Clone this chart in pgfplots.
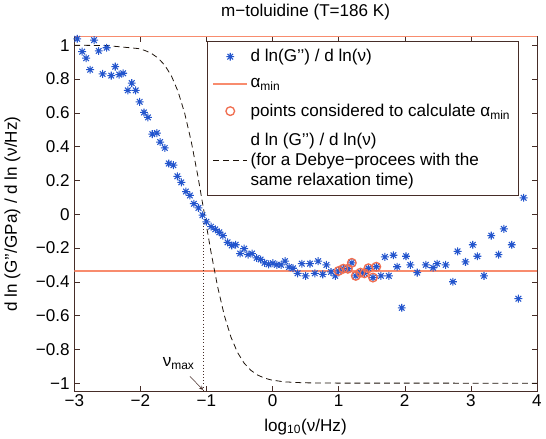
\documentclass[border=0pt]{standalone}
\usepackage{fontspec}
\setmainfont{Liberation Sans}
\usepackage{pgfplots}
\pgfplotsset{compat=1.18}
\definecolor{starblue}{RGB}{35,85,205}
\definecolor{salmonline}{RGB}{248,140,110}
\definecolor{circor}{RGB}{240,110,80}
\definecolor{frame}{RGB}{70,45,40}

% MATLAB-like eight-armed asterisk
\pgfdeclareplotmark{star8}{%
  \pgfpathmoveto{\pgfqpoint{-\pgfplotmarksize}{0pt}}\pgfpathlineto{\pgfqpoint{\pgfplotmarksize}{0pt}}%
  \pgfpathmoveto{\pgfqpoint{0pt}{-\pgfplotmarksize}}\pgfpathlineto{\pgfqpoint{0pt}{\pgfplotmarksize}}%
  \pgfpathmoveto{\pgfqpoint{-0.707\pgfplotmarksize}{-0.707\pgfplotmarksize}}\pgfpathlineto{\pgfqpoint{0.707\pgfplotmarksize}{0.707\pgfplotmarksize}}%
  \pgfpathmoveto{\pgfqpoint{-0.707\pgfplotmarksize}{0.707\pgfplotmarksize}}\pgfpathlineto{\pgfqpoint{0.707\pgfplotmarksize}{-0.707\pgfplotmarksize}}%
  \pgfusepathqstroke}

\begin{document}
\begin{tikzpicture}[font=\fontsize{13}{15.5}\selectfont]
\begin{axis}[
  scale only axis,
  width=352pt, height=270pt,
  xmin=-3, xmax=4, ymin=-1.05, ymax=1.05,
  xtick={-3,-2,-1,0,1,2,3,4},
  xticklabels={−3,−2,−1,0,1,2,3,4},
  ytick={-1,-0.8,-0.6,-0.4,-0.2,0,0.2,0.4,0.6,0.8,1},
  yticklabels={−1,−0.8,−0.6,−0.4,−0.2,0,0.2,0.4,0.6,0.8,1},
  axis line style={frame},
  tick style={frame},
  major tick length=4pt,
  title={m−toluidine (T=186 K)},
  title style={yshift=3pt},
  xlabel={log\textsubscript{10}(ν/Hz)},
  ylabel={d ln (G’’/GPa) / d ln (ν/Hz)},
  xlabel style={yshift=-2pt},
  ylabel style={yshift=5pt},
  xticklabel style={yshift=1pt},
  legend style={at={(0.96,0.987)}, anchor=north east, draw=frame,
    cells={align=left}, row sep=7pt, inner sep=4pt},
  legend cell align=left,
  legend image code/.code={\draw[mark repeat=2,mark phase=2,#1]
    plot coordinates {(0cm,0cm) (0.45cm,0cm) (0.9cm,0cm)};},
]

% measured derivative
\addplot[only marks, mark=star8, mark size=3pt, starblue, line width=0.8pt] coordinates {
(-2.955,1.038) (-2.88,0.962) (-2.82,0.923) (-2.76,0.855) (-2.70,1.03)
(-2.63,0.966) (-2.57,0.83) (-2.51,0.985) (-2.44,0.82) (-2.38,0.873)
(-2.32,0.826) (-2.26,0.834) (-2.19,0.733) (-2.13,0.776) (-2.07,0.733)
(-2.01,0.665) (-1.945,0.602) (-1.885,0.573) (-1.82,0.474) (-1.75,0.48)
(-1.70,0.427) (-1.63,0.392) (-1.57,0.30) (-1.50,0.29) (-1.44,0.224)
(-1.38,0.188) (-1.31,0.134) (-1.25,0.111) (-1.19,0.062) (-1.12,0.037)
(-1.06,-0.006) (-1.00,-0.045) (-0.93,-0.074) (-0.866,-0.09) (-0.806,-0.107)
(-0.75,-0.127) (-0.68,-0.167) (-0.617,-0.185) (-0.557,-0.181) (-0.49,-0.233)
(-0.43,-0.204) (-0.37,-0.239) (-0.31,-0.233) (-0.24,-0.259) (-0.18,-0.268)
(-0.12,-0.288) (-0.06,-0.297) (0.005,-0.29) (0.065,-0.30) (0.13,-0.30)
(0.19,-0.278) (0.25,-0.313) (0.31,-0.32) (0.38,-0.35) (0.443,-0.293)
(0.50,-0.365) (0.567,-0.293) (0.64,-0.35) (0.69,-0.278) (0.76,-0.356)
(0.815,-0.30) (0.885,-0.342) (0.95,-0.365) (1.0,-0.336) (1.07,-0.323)
(1.14,-0.323) (1.20,-0.288) (1.26,-0.365) (1.33,-0.346) (1.39,-0.35)
(1.45,-0.32) (1.52,-0.375) (1.57,-0.311) (1.64,-0.365) (1.70,-0.253)
(1.76,-0.365) (1.83,-0.243) (1.885,-0.311) (1.955,-0.554) (2.02,-0.249)
(2.085,-0.30) (2.19,-0.346) (2.32,-0.30) (2.43,-0.317) (2.49,-0.293)
(2.62,-0.30) (2.73,-0.40) (2.80,-0.22) (2.92,-0.282) (3.03,-0.181)
(3.10,-0.249) (3.20,-0.365) (3.31,-0.127) (3.42,-0.239) (3.50,-0.087)
(3.62,-0.181) (3.72,-0.50) (3.80,0.097)
};
\addlegendentry{d ln(G’’) / d ln(ν)}

% alpha_min
\addplot[draw=salmonline, line width=1.3pt] coordinates {(-3,-0.336) (4,-0.336)};
\addlegendentry{α\textsubscript{min}}

% points used for alpha_min
\addplot[only marks, mark=o, mark size=3.3pt, circor, line width=1pt] coordinates {
(1.0,-0.336) (1.07,-0.323) (1.14,-0.323) (1.20,-0.288) (1.26,-0.365)
(1.33,-0.346) (1.39,-0.35) (1.45,-0.32) (1.52,-0.375) (1.57,-0.311)
};
\addlegendentry{points considered to calculate α\textsubscript{min}}

% Debye process, same relaxation time
\addplot[black!85!brown, dash pattern=on 4.5pt off 3pt, line width=0.6pt] coordinates {
(-3,1.0) (-2.5,0.9977) (-2.03,0.9802) (-1.93,0.9688) (-1.83,0.9510)
(-1.73,0.9234) (-1.63,0.8813) (-1.53,0.8182) (-1.43,0.7264) (-1.33,0.5985)
(-1.23,0.4305) (-1.13,0.2262) (-1.03,0) (-0.93,-0.2262) (-0.83,-0.4305)
(-0.73,-0.5985) (-0.63,-0.7264) (-0.53,-0.8182) (-0.43,-0.8813) (-0.33,-0.9234)
(-0.23,-0.9510) (-0.13,-0.9688) (-0.03,-0.9802) (0.17,-0.9921) (0.47,-0.998)
(1.0,-0.9998) (4,-1.0)
};
\addlegendentry{d ln (G’’) / d ln(ν)\\(for a Debye−procees with the\\same relaxation time)}

% nu_max marker
\addplot[frame, dotted, forget plot] coordinates {(-1.045,-0.05) (-1.045,-1.05)};
\node at (axis cs:-1.42,-0.885) {ν\textsubscript{max}};
\draw[-stealth, frame] (axis cs:-1.25,-0.96) -- (axis cs:-1.05,-1.04);
\draw[salmonline, line width=0.8pt] (rel axis cs:0,1) -- (rel axis cs:1,1);
\end{axis}
\end{tikzpicture}
\end{document}
